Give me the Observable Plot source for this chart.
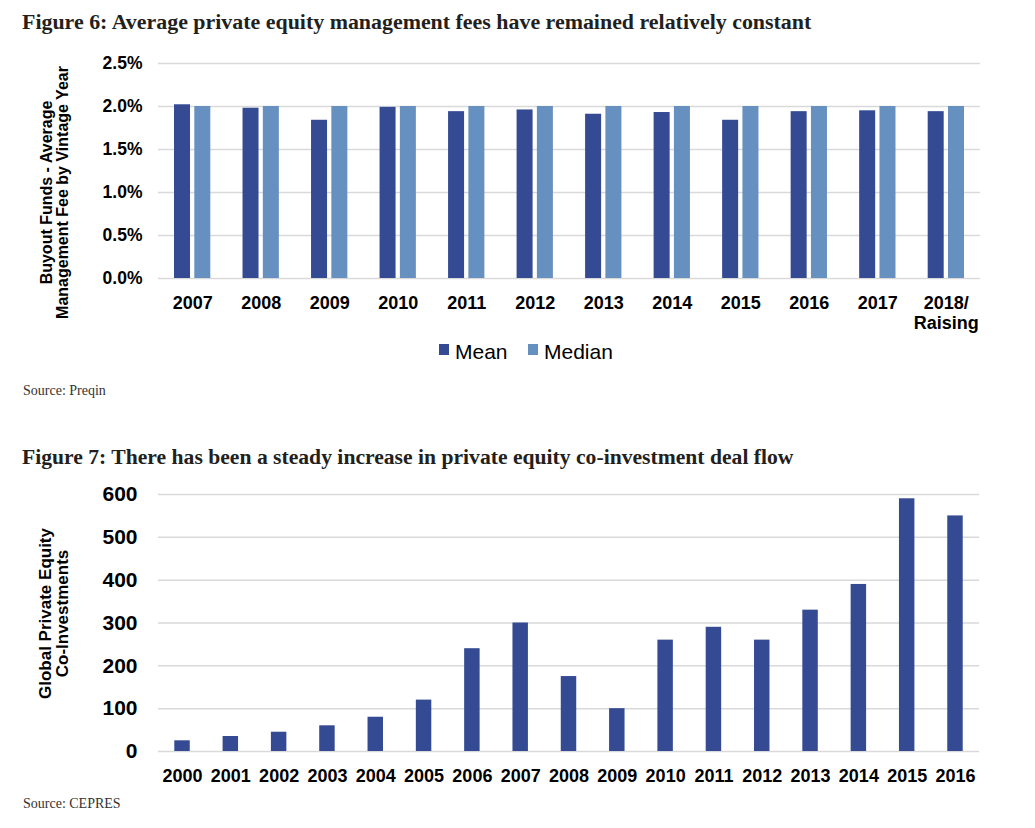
<!DOCTYPE html>
<html><head><meta charset="utf-8">
<script src="https://cdn.jsdelivr.net/npm/d3@7"></script>
<script src="https://cdn.jsdelivr.net/npm/@observablehq/plot@0.6"></script>
<style>
body{margin:0;background:#fff;width:1035px;height:828px;position:relative;overflow:hidden}
.title{position:absolute;left:22px;font-family:"Liberation Serif",serif;font-weight:bold;font-size:20px;line-height:1;color:#231f20;white-space:nowrap}
.source{position:absolute;left:23px;font-family:"Liberation Serif",serif;font-size:14px;line-height:14px;color:#333;white-space:nowrap}
.chart{position:absolute;left:0}
.lg{position:absolute;font-family:"Liberation Sans",Arial,sans-serif;font-size:21px;line-height:21px;color:#000;white-space:nowrap}
.sw{position:absolute;width:10px;height:11px}
</style>
</head><body>
<div class="title" id="t6" data-w="790" data-base="29">Figure 6: Average private equity management fees have remained relatively constant</div>
<div id="c1" class="chart" style="top:50px"></div>
<div id="legend"></div>
<div class="source" style="top:384px">Source: Preqin</div>
<div class="title" id="t7" data-w="772" data-base="465">Figure 7: There has been a steady increase in private equity co-investment deal flow</div>
<div id="c2" class="chart" style="top:480px"></div>
<div class="source" style="top:797px">Source: CEPRES</div>
<script>
// Figure 6 data
const years6 = ["2007","2008","2009","2010","2011","2012","2013","2014","2015","2016","2017","2018/\nRaising"];
const mean6 = [2.02,1.98,1.84,1.99,1.94,1.96,1.91,1.93,1.84,1.94,1.95,1.94];
const median6 = [2.00,2.00,2.00,2.00,2.00,2.00,2.00,2.00,2.00,2.00,2.00,2.00];
const series6 = ["Mean","Median"];
const colors6 = ["#344b93","#6590bf"];
const ticks6 = [0,0.005,0.01,0.015,0.02,0.025];
const yTitle6 = "Buyout Funds - Average\nManagement Fee by Vintage Year";

// Figure 7 data
const years7 = ["2000","2001","2002","2003","2004","2005","2006","2007","2008","2009","2010","2011","2012","2013","2014","2015","2016"];
const deals7 = [25,35,45,60,80,120,240,300,175,100,260,290,260,330,390,590,550];
const ticks7 = [0,100,200,300,400,500,600];
const yTitle7 = "Global Private Equity\nCo-Investments";

// fit titles to the reference width
document.querySelectorAll(".title").forEach(el=>{
  const w = el.getBoundingClientRect().width;
  const fs = 20 * (+el.dataset.w) / w;
  el.style.fontSize = fs + "px";
  el.style.top = (+el.dataset.base - 0.8375*fs) + "px";
});

const meanRows = years6.map((y,i)=>({year:y, series:series6[0], value:mean6[i]/100}));
const medianRows = years6.map((y,i)=>({year:y, series:series6[1], value:median6[i]/100}));
const font = "Liberation Sans, Arial, sans-serif";

const p1 = Plot.plot({
  width:1035, height:280, marginLeft:158, marginRight:55, marginTop:13, marginBottom:52,
  style:{fontFamily:font, fontWeight:"bold", color:"#000", background:"transparent", overflow:"visible"},
  x:{domain:years6, paddingInner:0.47, paddingOuter:0.2336, round:false, axis:null},
  y:{domain:[0,0.025], axis:null},
  color:{domain:series6, range:colors6},
  marks:[
    Plot.gridY(ticks6, {stroke:"#d9d9d9", strokeOpacity:1, strokeWidth:1.5}),
    Plot.barY(meanRows, {x:"year", y:"value", fill:"series", insetRight:20.3}),
    Plot.barY(medianRows, {x:"year", y:"value", fill:"series", insetLeft:20.3}),
    Plot.axisY(ticks6, {tickSize:0, tickPadding:16, fontSize:17.5, tickFormat:d=>(d*100).toFixed(1)+"%", label:null}),
    Plot.axisX({tickSize:0, tickPadding:16, fontSize:18, lineHeight:1.11, label:null}),
    Plot.text([yTitle6], {frameAnchor:"left", dx:-104, dy:21.5, rotate:-90, fontSize:16, lineHeight:1.0, textAnchor:"middle", lineAnchor:"middle"})
  ]
});
document.getElementById("c1").appendChild(p1);

// legend
const lg = document.getElementById("legend");
const lgPos = [{sw:439, tx:455},{sw:528, tx:544}];
series6.forEach((s,i)=>{
  const sw = document.createElement("div");
  sw.className="sw"; sw.style.left=lgPos[i].sw+"px"; sw.style.top="344px"; sw.style.background=colors6[i];
  lg.appendChild(sw);
  const t = document.createElement("div");
  t.className="lg"; t.style.left=lgPos[i].tx+"px"; t.style.top="341px"; t.textContent=s;
  lg.appendChild(t);
});

const rows7 = years7.map((y,i)=>({year:y, value:deals7[i]}));
const p2 = Plot.plot({
  width:1035, height:310, marginLeft:158, marginRight:56, marginTop:14, marginBottom:39,
  style:{fontFamily:font, fontWeight:"bold", color:"#000", background:"transparent", overflow:"visible"},
  x:{domain:years7, paddingInner:0.68, paddingOuter:0.337, round:false, axis:null},
  y:{domain:[0,600], axis:null},
  marks:[
    Plot.gridY(ticks7, {stroke:"#d9d9d9", strokeOpacity:1, strokeWidth:1.5}),
    Plot.barY(rows7, {x:"year", y:"value", fill:"#344b93"}),
    Plot.axisY(ticks7, {tickSize:0, tickPadding:21, fontSize:21, label:null}),
    Plot.axisX({tickSize:0, tickPadding:18, fontSize:18, label:null}),
    Plot.text([yTitle7], {frameAnchor:"left", dx:-104, dy:-9.5, rotate:-90, fontSize:17, lineHeight:1, textAnchor:"middle", lineAnchor:"middle"})
  ]
});
document.getElementById("c2").appendChild(p2);
</script>
</body></html>
